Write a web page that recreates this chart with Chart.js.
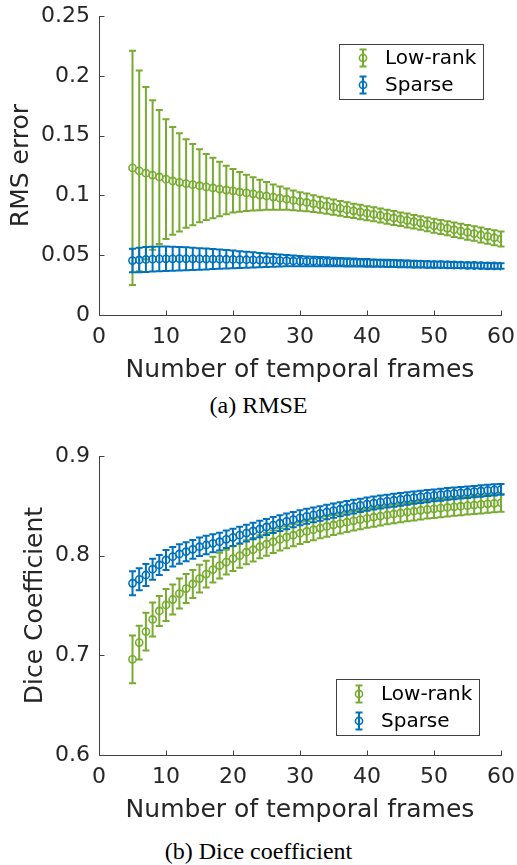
<!DOCTYPE html>
<html>
<head>
<meta charset="utf-8">
<title>RMSE and Dice vs temporal frames</title>
<script src="https://cdn.jsdelivr.net/npm/chart.js@4.4.1/dist/chart.umd.min.js"></script>
<style>
  html, body { margin: 0; padding: 0; background: #fff; }
  #page { position: relative; width: 517px; height: 865px; overflow: hidden; }
  .panel { position: absolute; left: 0; width: 517px; height: 390px; }
  .caption {
    position: absolute; left: 0; width: 517px; text-align: center; line-height: 28px;
    font-family: 'Liberation Serif', 'Times New Roman', serif; font-size: 24px; color: #000;
  }
</style>
</head>
<body>
<div id="page">
  <div class="panel" style="top:0"><canvas id="rmse"></canvas></div>
  <div class="caption" style="top:391px">(a) RMSE</div>
  <div class="panel" style="top:440px"><canvas id="dice"></canvas></div>
  <div class="caption" style="top:837px">(b) Dice coefficient</div>
</div>
<script>
// number of temporal frames, 5..60
const frames = [5, 6, 7, 8, 9, 10, 11, 12, 13, 14, 15, 16, 17, 18, 19, 20,
  21, 22, 23, 24, 25, 26, 27, 28, 29, 30, 31, 32, 33, 34, 35, 36, 37, 38, 39, 40,
  41, 42, 43, 44, 45, 46, 47, 48, 49, 50, 51, 52, 53, 54, 55, 56, 57, 58, 59, 60];

// (a) RMS error
const rmseLowRank = [0.123, 0.1205, 0.1186, 0.117, 0.1154, 0.1136, 0.1121, 0.1109, 0.1099, 0.109,
  0.1081, 0.1071, 0.1062, 0.1053, 0.1045, 0.1038, 0.1029, 0.1021, 0.1013, 0.1003,
  0.0995, 0.0986, 0.0977, 0.0968, 0.0958, 0.0949, 0.0941, 0.0931, 0.0921, 0.0912,
  0.0902, 0.0892, 0.0881, 0.0871, 0.0861, 0.0851, 0.0842, 0.0832, 0.0821, 0.0811,
  0.0801, 0.079, 0.078, 0.0769, 0.0758, 0.0746, 0.0736, 0.0725, 0.0713, 0.0702,
  0.0691, 0.0681, 0.0669, 0.0658, 0.0646, 0.0636];
const rmseLowRankErr = [0.098, 0.084, 0.072, 0.0625, 0.056, 0.05, 0.045, 0.041, 0.037, 0.034,
  0.0305, 0.0276, 0.0253, 0.0228, 0.0203, 0.0182, 0.0166, 0.0152, 0.0139, 0.0127,
  0.0116, 0.0105, 0.0097, 0.0089, 0.0083, 0.0078, 0.0074, 0.007, 0.0067, 0.0065,
  0.0063, 0.0062, 0.0061, 0.006, 0.006, 0.0059, 0.0059, 0.0058, 0.0058, 0.0058,
  0.0057, 0.0058, 0.0057, 0.0057, 0.0058, 0.0058, 0.0059, 0.0059, 0.006, 0.006,
  0.0061, 0.0061, 0.0062, 0.0062, 0.0063, 0.0063];
const rmseSparse = [0.0455, 0.046, 0.0464, 0.0467, 0.0469, 0.047, 0.047, 0.0471, 0.047, 0.047,
  0.0469, 0.0468, 0.0468, 0.0467, 0.0466, 0.0465, 0.0463, 0.0462, 0.0461, 0.0459,
  0.0458, 0.0457, 0.0455, 0.0454, 0.0452, 0.0451, 0.0449, 0.0448, 0.0446, 0.0445,
  0.0443, 0.0442, 0.044, 0.0439, 0.0437, 0.0436, 0.0434, 0.0433, 0.0431, 0.043,
  0.0429, 0.0427, 0.0426, 0.0425, 0.0423, 0.0422, 0.0421, 0.0419, 0.0418, 0.0417,
  0.0415, 0.0414, 0.0413, 0.0411, 0.041, 0.0409];
const rmseSparseErr = [0.0098, 0.0102, 0.0104, 0.0104, 0.0103, 0.0102, 0.01, 0.0098, 0.0096, 0.0093,
  0.009, 0.0087, 0.0084, 0.0081, 0.0078, 0.0075, 0.0071, 0.0067, 0.0063, 0.006,
  0.0056, 0.0053, 0.005, 0.0047, 0.0045, 0.0043, 0.0041, 0.004, 0.0038, 0.0037,
  0.0036, 0.0035, 0.0034, 0.0033, 0.0032, 0.0032, 0.0031, 0.003, 0.003, 0.0029,
  0.0029, 0.0028, 0.0028, 0.0027, 0.0027, 0.0026, 0.0026, 0.0026, 0.0025, 0.0025,
  0.0025, 0.0024, 0.0024, 0.0024, 0.0023, 0.0023];

// (b) Dice coefficient
const diceLowRank = [0.696, 0.7128, 0.7238, 0.736, 0.7445, 0.7505, 0.756, 0.762, 0.767, 0.7716,
  0.777, 0.7815, 0.786, 0.79, 0.7935, 0.797, 0.8, 0.8035, 0.806, 0.809,
  0.8115, 0.814, 0.8163, 0.8185, 0.8205, 0.8225, 0.8243, 0.826, 0.8277, 0.8293,
  0.8308, 0.8322, 0.8336, 0.835, 0.8362, 0.8375, 0.8386, 0.8397, 0.8408, 0.8418,
  0.8428, 0.8437, 0.8446, 0.8455, 0.8463, 0.847, 0.8477, 0.8484, 0.849, 0.8496,
  0.8502, 0.8508, 0.8514, 0.852, 0.8525, 0.853];
const diceLowRankErr = [0.024, 0.017, 0.019, 0.017, 0.015, 0.016, 0.015, 0.015, 0.0145, 0.014,
  0.014, 0.0135, 0.013, 0.013, 0.0125, 0.0125, 0.012, 0.012, 0.0118, 0.0116,
  0.0115, 0.0113, 0.0112, 0.011, 0.011, 0.0108, 0.0106, 0.0105, 0.0103, 0.0102,
  0.01, 0.0099, 0.0098, 0.0097, 0.0096, 0.0095, 0.0095, 0.0094, 0.0094, 0.0093,
  0.0093, 0.0092, 0.0092, 0.0092, 0.0091, 0.0091, 0.0091, 0.009, 0.009, 0.009,
  0.009, 0.009, 0.009, 0.009, 0.009, 0.009];
const diceSparse = [0.7723, 0.7763, 0.7806, 0.7864, 0.7907, 0.7957, 0.799, 0.8017, 0.804, 0.8064,
  0.809, 0.8107, 0.8124, 0.814, 0.8164, 0.8184, 0.8206, 0.8227, 0.8248, 0.8268,
  0.8288, 0.8307, 0.8326, 0.8344, 0.8362, 0.838, 0.8395, 0.841, 0.8424, 0.8438,
  0.8452, 0.8466, 0.8479, 0.8492, 0.8505, 0.8517, 0.8528, 0.8538, 0.8547, 0.8556,
  0.8565, 0.8574, 0.8582, 0.859, 0.8598, 0.8605, 0.8612, 0.8619, 0.8625, 0.8631,
  0.8637, 0.8643, 0.8649, 0.8655, 0.866, 0.8665];
const diceSparseErr = [0.012, 0.011, 0.011, 0.0105, 0.01, 0.01, 0.0098, 0.0097, 0.0095, 0.0094,
  0.0093, 0.0092, 0.009, 0.0089, 0.0088, 0.0086, 0.0085, 0.0084, 0.0083, 0.0082,
  0.0081, 0.008, 0.0079, 0.0078, 0.0077, 0.0076, 0.0075, 0.0074, 0.0073, 0.0072,
  0.0071, 0.007, 0.0069, 0.0068, 0.0067, 0.0066, 0.0066, 0.0065, 0.0064, 0.0064,
  0.0063, 0.0062, 0.0062, 0.0061, 0.0061, 0.006, 0.006, 0.0059, 0.0059, 0.0058,
  0.0058, 0.0057, 0.0057, 0.0056, 0.0056, 0.0055];

const seriesNames = ['Low-rank', 'Sparse'];
const xTicks = [0, 10, 20, 30, 40, 50, 60];
const xTickLabels = ['0', '10', '20', '30', '40', '50', '60'];
const rmseTicks = [0, 0.05, 0.1, 0.15, 0.2, 0.25];
const rmseTickLabels = ['0', '0.05', '0.1', '0.15', '0.2', '0.25'];
const diceTicks = [0.6, 0.7, 0.8, 0.9];
const diceTickLabels = ['0.6', '0.7', '0.8', '0.9'];

const green = '#77AC30';
const blue = '#0072BD';
const axisColor = '#404040';
const textColor = '#262626';

Chart.defaults.font.family = '"DejaVu Sans", sans-serif';
Chart.defaults.color = textColor;

// vertical error bars with caps, drawn just before each dataset's markers
const errorBars = {
  id: 'errorBars',
  beforeDatasetDraw(chart, args) {
    const ds = chart.data.datasets[args.index];
    const y = chart.scales.y;
    const ctx = chart.ctx;
    ctx.save();
    ctx.strokeStyle = ds.borderColor;
    ctx.lineWidth = 2;
    ctx.beginPath();
    args.meta.data.forEach((pt, i) => {
      const v = ds.data[i].y, e = ds.errors[i];
      const top = y.getPixelForValue(v + e), bot = y.getPixelForValue(v - e);
      ctx.moveTo(pt.x, top); ctx.lineTo(pt.x, bot);
      ctx.moveTo(pt.x - 3.5, top); ctx.lineTo(pt.x + 3.5, top);
      ctx.moveTo(pt.x - 3.5, bot); ctx.lineTo(pt.x + 3.5, bot);
    });
    ctx.stroke();
    ctx.restore();
  }
};

// left/bottom axis lines with inward ticks (box off)
const matlabAxes = {
  id: 'matlabAxes',
  afterDatasetsDraw(chart) {
    const { ctx, chartArea: a, scales: { x, y } } = chart;
    const L = Math.round(a.left) + 0.5, B = Math.round(a.bottom) + 0.5;
    ctx.save();
    ctx.strokeStyle = axisColor;
    ctx.lineWidth = 1;
    ctx.beginPath();
    ctx.moveTo(L, Math.round(a.top));
    ctx.lineTo(L, B);
    ctx.lineTo(Math.round(a.right) + 1, B);
    x.ticks.forEach(t => {
      const px = Math.round(x.getPixelForValue(t.value)) + 0.5;
      ctx.moveTo(px, B); ctx.lineTo(px, B - 5);
    });
    y.ticks.forEach(t => {
      const py = Math.round(y.getPixelForValue(t.value)) + 0.5;
      ctx.moveTo(L, py); ctx.lineTo(L + 5, py);
    });
    ctx.stroke();
    ctx.restore();
  }
};

// boxed legend with errorbar symbols
const boxLegend = {
  id: 'boxLegend',
  afterDraw(chart, args, opts) {
    const ctx = chart.ctx;
    ctx.save();
    ctx.fillStyle = '#fff';
    ctx.fillRect(opts.left, opts.top, opts.width, opts.height);
    ctx.strokeStyle = axisColor;
    ctx.lineWidth = 1;
    ctx.strokeRect(opts.left + 0.5, opts.top + 0.5, opts.width, opts.height);
    chart.data.datasets.forEach((ds, i) => {
      const cy = opts.top + opts.firstRow + i * opts.rowGap;
      const mx = opts.left + opts.markerX;
      ctx.strokeStyle = ds.borderColor;
      ctx.lineWidth = 2;
      ctx.beginPath();
      ctx.moveTo(mx, cy - 8.5); ctx.lineTo(mx, cy + 8.5);
      ctx.moveTo(mx - 3.5, cy - 8.5); ctx.lineTo(mx + 3.5, cy - 8.5);
      ctx.moveTo(mx - 3.5, cy + 8.5); ctx.lineTo(mx + 3.5, cy + 8.5);
      ctx.stroke();
      ctx.lineWidth = 1.6;
      ctx.beginPath();
      ctx.arc(mx, cy, 3.6, 0, Math.PI * 2);
      ctx.stroke();
      ctx.fillStyle = '#000';
      ctx.font = '20px "DejaVu Sans"';
      ctx.textBaseline = 'middle';
      ctx.textAlign = 'left';
      ctx.fillText(ds.label, opts.left + opts.textX, cy + 1);
    });
    ctx.restore();
  }
};

function makeDataset(label, color, means, errs, order) {
  return {
    label: label,
    data: frames.map((f, i) => ({ x: f, y: means[i] })),
    errors: errs,
    borderColor: color,
    backgroundColor: 'rgba(0,0,0,0)',
    pointStyle: 'circle',
    pointRadius: 3.6,
    pointBorderWidth: 1.6,
    pointHoverRadius: 3.6,
    showLine: false,
    order: order
  };
}

function makeChart(id, datasets, yMin, yMax, yTicks, yTickLabels, yTitle, yTitleGap, legendBox) {
  return new Chart(document.getElementById(id), {
    type: 'scatter',
    data: { datasets: datasets },
    plugins: [errorBars, matlabAxes, boxLegend],
    options: {
      responsive: true,
      maintainAspectRatio: false,
      animation: false,
      events: [],
      layout: { padding: { top: 16, right: 16, left: 0, bottom: 0 } },
      plugins: {
        legend: { display: false },
        tooltip: { enabled: false },
        boxLegend: legendBox
      },
      scales: {
        x: {
          type: 'linear',
          min: 0,
          max: 60,
          grid: { display: false, drawTicks: false },
          border: { display: false },
          afterBuildTicks: s => { s.ticks = xTicks.map(v => ({ value: v })); },
          afterFit: s => { s.height = 75; s.paddingLeft = 0; s.paddingRight = 0; },
          ticks: {
            padding: 9,
            font: { size: 22 },
            color: textColor,
            maxRotation: 0,
            callback: (v, i) => xTickLabels[i]
          },
          title: {
            display: true,
            text: 'Number of temporal frames',
            font: { size: 25 },
            color: textColor,
            padding: { top: 0, bottom: 5 }
          }
        },
        y: {
          type: 'linear',
          min: yMin,
          max: yMax,
          grid: { display: false, drawTicks: false },
          border: { display: false },
          afterBuildTicks: s => { s.ticks = yTicks.map(v => ({ value: v })); },
          afterFit: s => { s.width = 99; s.paddingTop = 0; s.paddingBottom = 0; },
          ticks: {
            padding: 9,
            font: { size: 22 },
            color: textColor,
            callback: (v, i) => yTickLabels[i]
          },
          title: {
            display: true,
            text: yTitle,
            font: { size: 25 },
            color: textColor,
            padding: { top: yTitleGap, bottom: 0 }
          }
        }
      }
    }
  });
}

makeChart('rmse', [
    makeDataset(seriesNames[0], green, rmseLowRank, rmseLowRankErr, 1),
    makeDataset(seriesNames[1], blue, rmseSparse, rmseSparseErr, 0)
  ], 0, 0.25, rmseTicks, rmseTickLabels, 'RMS error', 6,
  { left: 339, top: 44, width: 144, height: 55, firstRow: 14, rowGap: 27, markerX: 24, textX: 46 });

makeChart('dice', [
    makeDataset(seriesNames[0], green, diceLowRank, diceLowRankErr, 1),
    makeDataset(seriesNames[1], blue, diceSparse, diceSparseErr, 0)
  ], 0.6, 0.9, diceTicks, diceTickLabels, 'Dice Coefficient', 20,
  { left: 336, top: 239, width: 143, height: 56, firstRow: 15, rowGap: 27, markerX: 23, textX: 45 });
</script>
</body>
</html>
